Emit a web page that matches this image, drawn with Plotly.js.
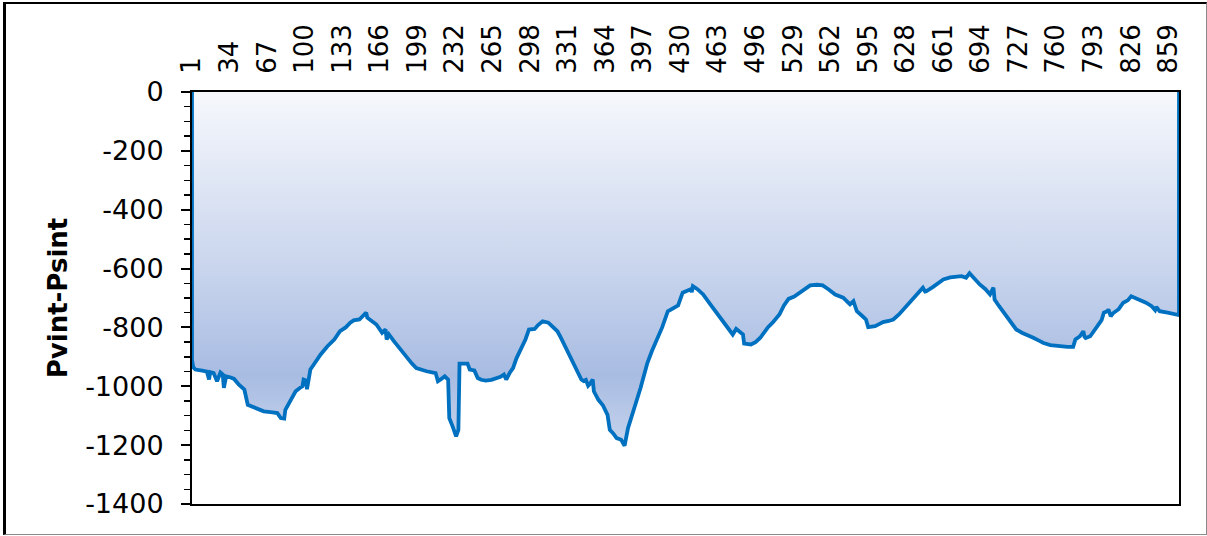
<!DOCTYPE html>
<html>
<head>
<meta charset="utf-8">
<script src="https://cdn.plot.ly/plotly-3.0.1.min.js"></script>
<style>
  html, body { margin: 0; padding: 0; background: #ffffff; }
  #wrap { position: relative; width: 1207px; height: 536px; }
  #chart { position: absolute; left: 0; top: 0; width: 1207px; height: 536px; }
  #frame { position: absolute; left: 3px; top: 2px; width: 1204px; height: 533px; box-sizing: border-box;
           border-left: 3px solid #000; border-top: 2px solid #000; border-right: 1px solid #8a8a8a; border-bottom: 1px solid #8a8a8a;
           pointer-events: none; }
</style>
</head>
<body>
<div id="wrap">
  <div id="chart"></div>
  <div id="frame"></div>
</div>
<script>
// Sample index (category number along the x axis)
const sampleIndex = [
  1, 2, 4, 10, 14, 16, 17, 20, 23, 26, 28, 29, 31, 35, 38, 42, 47, 50, 56, 60,
  64, 70, 76, 79, 82, 83, 88, 92, 96, 98, 99, 101, 102, 105, 108, 114, 120, 126, 131, 136,
  140, 143, 148, 152, 154, 155, 160, 163, 168, 171, 172, 174, 178, 183, 187, 190, 194, 198, 203, 207,
  215, 217, 220, 223, 226, 227, 230, 233, 235, 236, 243, 245, 249, 252, 255, 259, 264, 268, 272, 275,
  277, 280, 283, 286, 290, 294, 297, 302, 305, 309, 314, 318, 322, 325, 328, 331, 335, 339, 343, 345,
  347, 349, 351, 353, 354, 358, 362, 366, 368, 371, 374, 378, 380, 381, 384, 387, 390, 395, 398, 401,
  405, 410, 414, 419, 424, 428, 432, 436, 439, 440, 441, 445, 450, 456, 463, 470, 476, 479, 482, 485,
  486, 490, 492, 496, 500, 504, 507, 511, 517, 521, 525, 530, 535, 540, 544, 550, 555, 560, 566, 573,
  579, 582, 585, 590, 593, 595, 601, 605, 608, 613, 617, 622, 626, 630, 635, 640, 643, 645, 646, 652,
  656, 661, 667, 673, 677, 681, 684, 688, 693, 698, 702, 705, 706, 710, 714, 719, 725, 730, 734, 740,
  745, 749, 755, 763, 770, 775, 777, 781, 783, 784, 785, 786, 790, 795, 800, 802, 805, 806, 808, 810,
  815, 819, 823, 826, 832, 839, 844, 847, 848, 851, 858, 866, 868
];
// Pvint-Psint value at each sample
const pvintMinusPsint = [
  -910, -935, -943, -947, -950, -977, -952, -955, -983, -953, -960, -1005, -966, -970, -975, -994, -1011, -1063, -1071, -1078,
  -1085, -1088, -1091, -1108, -1110, -1080, -1046, -1017, -1005, -1000, -977, -980, -1010, -943, -926, -892, -864, -841, -813, -800,
  -784, -776, -773, -760, -750, -767, -780, -790, -818, -807, -841, -824, -845, -870, -890, -904, -922, -938, -945, -949,
  -955, -983, -975, -966, -977, -1108, -1137, -1170, -1148, -923, -923, -943, -946, -972, -978, -981, -978, -974, -968, -960,
  -977, -955, -938, -905, -875, -840, -807, -805, -792, -779, -784, -797, -813, -835, -858, -885, -915, -945, -977, -982,
  -978, -998, -990, -977, -1017, -1046, -1065, -1097, -1148, -1160, -1176, -1182, -1195, -1202, -1142, -1100, -1068, -1006, -965, -921,
  -880, -836, -800, -745, -735, -725, -682, -675, -670, -680, -660, -670, -688, -720, -756, -790, -824, -805, -815, -824,
  -855, -858, -858, -850, -836, -815, -799, -784, -756, -725, -703, -695, -682, -670, -657, -655, -657, -670, -688, -699,
  -722, -711, -745, -762, -773, -799, -796, -788, -782, -778, -773, -756, -739, -720, -699, -680, -665, -678, -677, -662,
  -650, -637, -630, -626, -626, -631, -616, -633, -654, -670, -688, -665, -705, -728, -750, -775, -807, -818, -824, -835,
  -845, -853, -860, -864, -866, -866, -841, -830, -818, -813, -832, -836, -830, -805, -775, -750, -745, -739, -762, -752,
  -738, -716, -708, -694, -703, -716, -728, -741, -730, -745, -750, -754, -758
];
// Category tick labels shown on the top axis
const tickLabels = [1, 34, 67, 100, 133, 166, 199, 232, 265, 298, 331, 364, 397, 430, 463, 496, 529, 562, 595, 628, 661, 694, 727, 760, 793, 826, 859];
// Value-axis tick values and their labels (plain hyphen as in the original)
const yTickValues = [0, -200, -400, -600, -800, -1000, -1200, -1400];
const yTickLabels = ['0', '-200', '-400', '-600', '-800', '-1000', '-1200', '-1400'];
const lastIndex = 868;

// close the area outline at both ends on the zero baseline
const xs = [sampleIndex[0]].concat(sampleIndex, [sampleIndex[sampleIndex.length - 1]]);
const ys = [0].concat(pvintMinusPsint, [0]);

const trace = {
  type: 'scatter',
  mode: 'lines',
  x: xs,
  y: ys,
  line: { color: '#0070c0', width: 3.8 },
  fill: 'tozeroy',
  fillgradient: {
    type: 'vertical',
    start: 0,
    stop: -1202,
    colorscale: [[0, '#f6f8fc'], [0.5, '#c9d5ed'], [0.8, '#a8bce2'], [1, '#c6d3ec']]
  },
  hoverinfo: 'x+y'
};

const font = 'DejaVu Sans, Arial, sans-serif';
const layout = {
  width: 1207,
  height: 536,
  margin: { l: 192, r: 28, t: 92, b: 32, pad: 0 },
  paper_bgcolor: '#ffffff',
  plot_bgcolor: '#ffffff',
  showlegend: false,
  xaxis: {
    type: 'linear',
    side: 'top',
    range: [1, lastIndex],
    tickmode: 'array',
    tickvals: tickLabels,
    ticktext: tickLabels.map(String),
    tickangle: -90,
    ticks: '',
    ticklabelstandoff: 11,
    tickfont: { family: font, size: 26, color: '#000000' },
    showline: true,
    mirror: true,
    linecolor: '#000000',
    linewidth: 2,
    showgrid: false,
    zeroline: false
  },
  yaxis: {
    range: [-1400, 0],
    tickmode: 'array',
    tickvals: yTickValues,
    ticktext: yTickLabels,
    ticks: 'outside',
    ticklen: 9,
    tickwidth: 2,
    tickcolor: '#000000',
    minor: { tick0: 0, dtick: 50, ticks: 'outside', ticklen: 6, tickwidth: 1.5, tickcolor: '#000000', showgrid: false },
    ticklabelstandoff: 12,
    tickfont: { family: font, size: 27, color: '#000000' },
    showline: true,
    mirror: true,
    linecolor: '#000000',
    linewidth: 2,
    showgrid: false,
    zeroline: false,
    title: {
      text: 'Pvint-Psint',
      font: { family: font, size: 26, color: '#000000', weight: 'bold' },
      standoff: 10
    }
  }
};

Plotly.newPlot('chart', [trace], layout, { displayModeBar: false, staticPlot: true });
</script>
</body>
</html>
